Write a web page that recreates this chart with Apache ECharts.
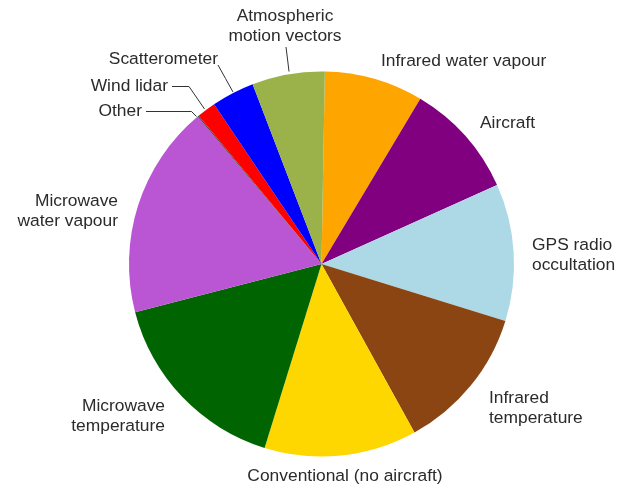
<!DOCTYPE html>
<html>
<head>
<meta charset="utf-8">
<script src="https://cdn.jsdelivr.net/npm/echarts@6/dist/echarts.min.js"></script>
<style>
  html, body { margin: 0; padding: 0; background: #fff; }
  #chart { width: 633px; height: 488px; }
</style>
</head>
<body>
<div id="chart"></div>
<script>
// Share of observation impact by observing system (%), clockwise from the top
const categories = [
  'Infrared water vapour',
  'Aircraft',
  'GPS radio\noccultation',
  'Infrared\ntemperature',
  'Conventional (no aircraft)',
  'Microwave\ntemperature',
  'Microwave\nwater vapour',
  'Other',
  'Wind lidar',
  'Scatterometer',
  'Atmospheric\nmotion vectors'
];
const shares = [8.3, 9.7, 11.5, 12.2, 12.8, 16.2, 17.9, 0.1, 1.6, 3.6, 6.1];
const colors = ['#ffa500', '#800080', '#add8e6', '#8b4513', '#ffd700', '#006400',
                '#ba55d3', '#444444', '#ff0000', '#0000ff', '#9bb24a'];

// Label placement around the pie: anchor point, alignment, optional leader line
const labelPlacement = {
  'Infrared water vapour':        { x: 381, y: 61.5, align: 'left' },
  'Aircraft':                     { x: 480, y: 123, align: 'left' },
  'GPS radio\noccultation':       { x: 532, y: 255, align: 'left' },
  'Infrared\ntemperature':        { x: 489, y: 408, align: 'left' },
  'Conventional (no aircraft)':   { x: 345, y: 476.5, align: 'center' },
  'Microwave\ntemperature':       { x: 165, y: 416.5, align: 'right' },
  'Microwave\nwater vapour':      { x: 118, y: 211.5, align: 'right' },
  'Other':                        { x: 142, y: 111, align: 'right',
                                    line: [[146, 111.5], [191.5, 111.5], [196.5, 116.5]] },
  'Wind lidar':                   { x: 168, y: 86, align: 'right',
                                    line: [[172, 86.5], [189, 86.5], [204.5, 109]] },
  'Scatterometer':                { x: 218, y: 59, align: 'right',
                                    line: [[218, 65], [225.5, 78.5], [233, 92]] },
  'Atmospheric\nmotion vectors':  { x: 285, y: 26, align: 'center',
                                    line: [[286, 47], [287.5, 59], [289, 71.5]] }
};

const pieData = categories.map((name, i) => ({
  name: name,
  value: shares[i],
  itemStyle: { color: colors[i] },
  labelLine: { show: !!labelPlacement[name].line }
}));

const chart = echarts.init(document.getElementById('chart'), null, { renderer: 'canvas' });
chart.setOption({
  animation: false,
  backgroundColor: '#ffffff',
  series: [{
    type: 'pie',
    center: [321.5, 264],
    radius: 192.5,
    startAngle: 89,
    clockwise: true,
    avoidLabelOverlap: false,
    minAngle: 0,
    data: pieData,
    itemStyle: { borderWidth: 0 },
    emphasis: { disabled: true },
    label: {
      show: true,
      position: 'outside',
      color: '#2b2b2b',
      fontFamily: '"Liberation Sans", Arial, Helvetica, sans-serif',
      fontSize: 17.4,
      lineHeight: 20,
      formatter: '{b}'
    },
    labelLine: {
      show: true,
      lineStyle: { color: '#333333', width: 1 }
    },
    labelLayout: function (params) {
      const p = labelPlacement[categories[params.dataIndex]];
      const out = { x: p.x, y: p.y, align: p.align, verticalAlign: 'middle' };
      if (p.line) out.labelLinePoints = p.line;
      return out;
    }
  }]
});
</script>
</body>
</html>
